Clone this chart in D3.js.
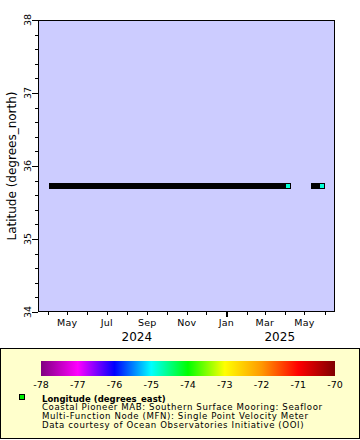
<!DOCTYPE html>
<html><head><meta charset="utf-8">
<script src="https://cdn.jsdelivr.net/npm/d3@7"></script>
<style>body{margin:0;background:#fff}svg{display:block;font-family:"DejaVu Sans",sans-serif}</style>
</head><body><svg id="c" width="360" height="440"></svg>
<script>
// ---- data ----
const segStart = ["2024-04-07", "2025-05-15"];
const segEnd   = ["2025-04-05", "2025-05-28"];
const segLat   = [35.72, 35.72];
const segLon   = [-74.84, -74.84];
const yTicks = [34, 35, 36, 37, 38];
const xLabelDates = ["2024-05-01","2024-07-01","2024-09-01","2024-11-01","2025-01-01","2025-03-01","2025-05-01"];
const xLabelText  = ["May","Jul","Sep","Nov","Jan","Mar","May"];
const yearText = ["2024", "2025"];
const yearAt   = ["2024-08-16", "2025-03-24"];
const cbTicks  = [-78, -77, -76, -75, -74, -73, -72, -71, -70];
const cbColors = ["#800080","#ff00ff","#0000ff","#00ffff","#00ff00","#ffff00","#ff9900","#ff0000","#800000"];
const legendTitle = "Longitude (degrees_east)";
const legendLines = ["Coastal Pioneer MAB: Southern Surface Mooring: Seafloor",
  "Multi-Function Node (MFN): Single Point Velocity Meter",
  "Data courtesy of Ocean Observatories Initiative (OOI)"];

const P = d => new Date(d + "T00:00:00Z");
const svg = d3.select("#c");
const L = 38, R = 335, T = 20, B = 312;
const x = d3.scaleUtc().domain([P("2024-03-17"), P("2025-06-17")]).range([L, R]);
const y = d3.scaleLinear().domain([34, 38]).range([B, T]);
const color = d3.scaleLinear().domain(cbTicks).range(cbColors).clamp(true);

svg.append("rect").attr("width",360).attr("height",440).attr("fill","#fff");
svg.append("rect").attr("x",L).attr("y",T).attr("width",R-L).attr("height",B-T).attr("fill","#ccccff");

// data
const g = svg.append("g").attr("shape-rendering","crispEdges");
segStart.forEach((s,i)=>{
  const x0 = Math.round(x(P(s))), x1 = Math.round(x(P(segEnd[i]))), yy = Math.round(y(segLat[i]));
  g.append("rect").attr("x",x0-3).attr("y",yy-3).attr("width",x1-x0+6).attr("height",6).attr("fill","#000");
  g.append("rect").attr("x",x1-2).attr("y",yy-2).attr("width",4).attr("height",4).attr("fill",color(segLon[i]));
});

// frame
svg.append("rect").attr("x",L+0.5).attr("y",T+0.5).attr("width",R-L-1).attr("height",B-T-1)
  .attr("fill","none").attr("stroke","#000").attr("stroke-width",1).attr("shape-rendering","crispEdges");

// y axis ticks
const ya = svg.append("g").attr("shape-rendering","crispEdges");
d3.range(34, 38.001, 0.2).forEach(v=>{
  const major = Math.abs(v - Math.round(v)) < 1e-6;
  const yy = Math.round(y(v)) + 0.5;
  ya.append("line").attr("x1",L - (major?6:3)).attr("x2",L).attr("y1",yy).attr("y2",yy).attr("stroke","#000");
});
yTicks.forEach(v=>{
  svg.append("text").attr("transform",`translate(31,${y(v)}) rotate(-90)`).attr("text-anchor","middle")
    .attr("font-size",9.5).text(v);
});
svg.append("text").attr("transform",`translate(16,${(T+B)/2}) rotate(-90)`).attr("text-anchor","middle")
  .attr("font-size",12).text("Latitude (degrees_north)");

// x axis ticks
const xa = svg.append("g").attr("shape-rendering","crispEdges");
d3.utcMonth.range(x.domain()[0], x.domain()[1]).forEach(d=>{
  const jan = d.getUTCMonth() === 0;
  const xx = Math.round(x(d)) + 0.5;
  xa.append("line").attr("x1",xx).attr("x2",xx).attr("y1",B).attr("y2",B + (jan?5:3))
    .attr("stroke","#000").attr("stroke-width", jan?2:1);
});
xLabelDates.forEach((d,i)=>{
  svg.append("text").attr("x",x(P(d))).attr("y",326).attr("text-anchor","middle").attr("font-size",9.5)
    .attr("letter-spacing",0.2).text(xLabelText[i]);
});
yearText.forEach((t,i)=>{
  svg.append("text").attr("x",x(P(yearAt[i]))).attr("y",341).attr("text-anchor","middle").attr("font-size",12).text(t);
});

// legend
svg.append("rect").attr("x",0.5).attr("y",348.5).attr("width",359).attr("height",90).attr("fill","#ffffcc")
  .attr("stroke","#000").attr("shape-rendering","crispEdges");
const cb = d3.scaleLinear().domain([-78,-70]).range([41,335]);
const grad = svg.append("defs").append("linearGradient").attr("id","cbg");
cbTicks.forEach((v,i)=> grad.append("stop").attr("offset",(i/(cbTicks.length-1))).attr("stop-color",cbColors[i]));
svg.append("rect").attr("x",41).attr("y",361).attr("width",294).attr("height",15).attr("fill","url(#cbg)");
cbTicks.forEach(v=>{
  svg.append("text").attr("x",cb(v)).attr("y",388).attr("text-anchor","middle").attr("font-size",9.5).text(v);
});
svg.append("rect").attr("x",19.5).attr("y",394.5).attr("width",5).attr("height",5).attr("fill","#00ee00")
  .attr("stroke","#000").attr("shape-rendering","crispEdges");
svg.append("text").attr("x",42).attr("y",401.5).attr("font-size",8.5).attr("font-weight","bold")
  .attr("letter-spacing",0.05).text(legendTitle);
legendLines.forEach((t,i)=>{
  svg.append("text").attr("x",42).attr("y",410.3 + i*8.7).attr("font-size",8.6)
    .attr("letter-spacing",0.6).text(t);
});
</script></body></html>
